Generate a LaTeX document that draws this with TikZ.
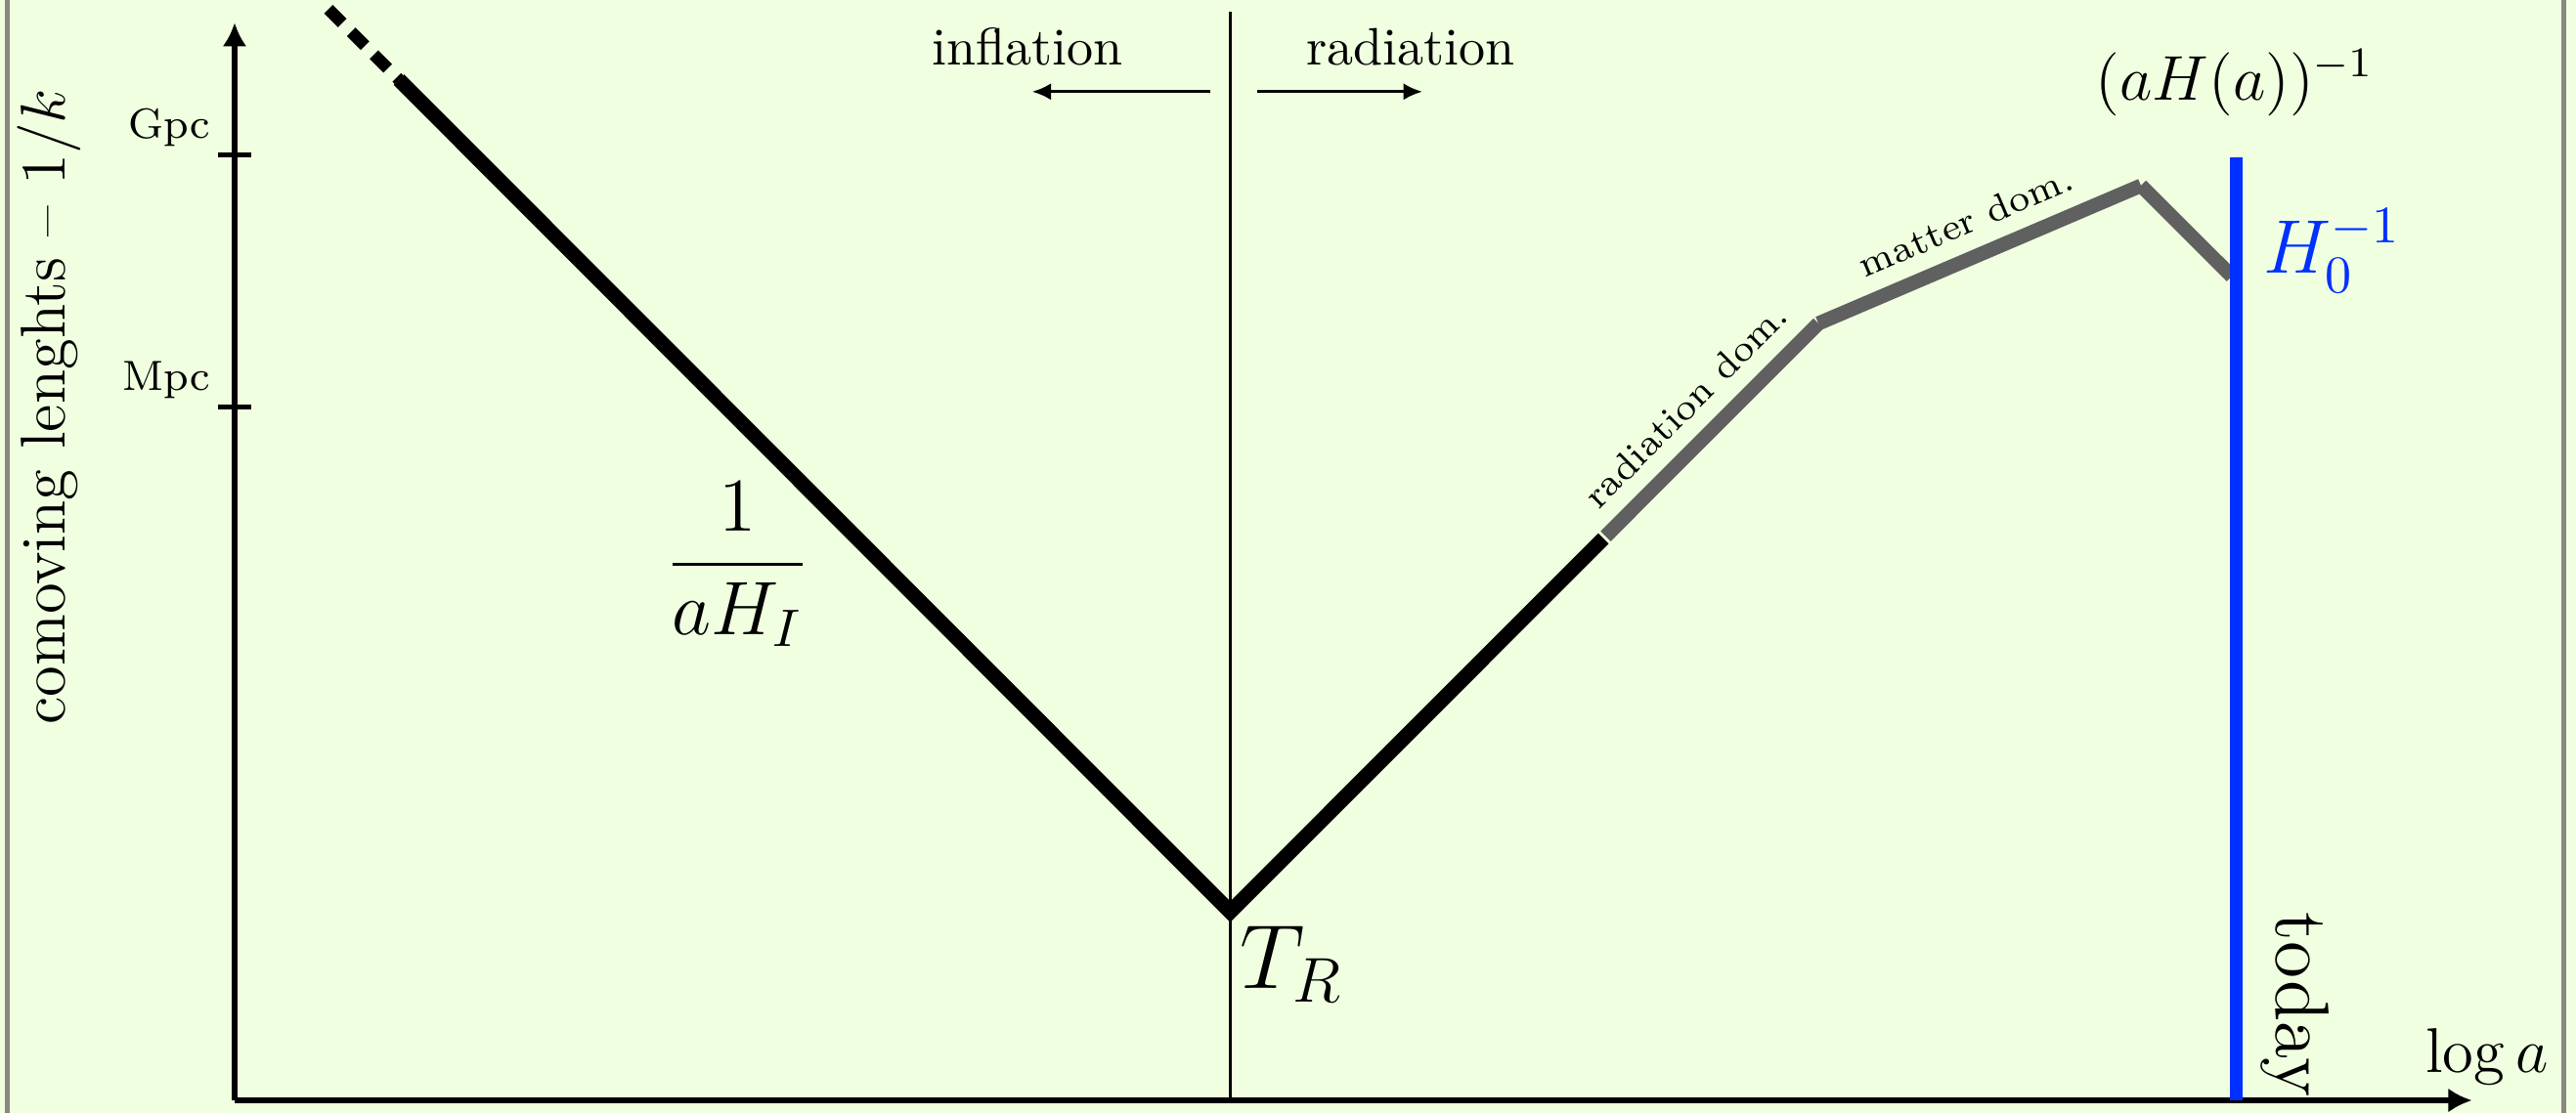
\documentclass[tikz,border=0pt]{standalone}
\usepackage{amsmath}
\usepackage{tikz}
\usepackage{xcolor}
\usetikzlibrary{arrows.meta,calc}
\definecolor{bgcol}{RGB}{240,255,224}
\definecolor{framecol}{RGB}{136,136,128}
\definecolor{latecol}{RGB}{96,96,96}
\definecolor{todaycol}{RGB}{0,48,255}

\begin{document}
\begin{tikzpicture}[auto]
    % Styles for axes and lines
    \tikzstyle{axis} = [line width=1pt,-{Latex[length=4.5pt,width=4.6pt]}]
    \tikzstyle{tick} = [line width=1pt]
    \tikzstyle{hubble} = [line width=2.8pt]
    \tikzstyle{late} = [line width=2.7pt, draw=latecol]
    \tikzstyle{era} = [line width=0.6pt,-{Latex[length=3.6pt,width=3.2pt]}]

  % Background and frame
    \fill[bgcol] (-1.5625,-0.0846) rectangle (15.592,7.3307);
    \useasboundingbox (-1.5625,-0.0846) rectangle (15.592,7.3307);
    \draw[framecol, line width=0.93pt] (-1.514,-0.0846) -- (-1.514,7.3307);
    \draw[framecol, line width=0.93pt] (15.51,-0.0846) -- (15.51,7.3307);

  % Points with explicit coordinates
    \coordinate (O) at (0,0);
    \coordinate (ytop) at (0,7.18);
    \coordinate (xend) at (14.90,0);
    \coordinate (gpc) at (0,6.30);
    \coordinate (mpc) at (0,4.62);
    \coordinate (TRtop) at (6.63,7.25);
    \coordinate (TRbot) at (6.63,0);
    \coordinate (early) at (0.625,7.27);
    \coordinate (Istart) at (1.094,6.80);
    \coordinate (TR) at (6.63,1.256);
    \coordinate (radstart) at (9.115,3.743);
    \coordinate (eq) at (10.547,5.176);
    \coordinate (lambda) at (12.695,6.094);
    \coordinate (now) at (13.30,5.49);
    \coordinate (todaytop) at (13.33,6.28);
    \coordinate (todaybot) at (13.33,0);
    \coordinate (infl-a) at (6.50,6.72);
    \coordinate (infl-b) at (5.31,6.72);
    \coordinate (rad-a) at (6.81,6.72);
    \coordinate (rad-b) at (7.91,6.72);

  % Axes and ticks
    \draw[axis] (O) -- (ytop);
    \draw[axis] (O) -- (xend);
    \draw[tick] ($(gpc)+(-0.11,0)$) node[above left, inner sep=1pt] {\footnotesize Gpc} -- ($(gpc)+(0.11,0)$);
    \draw[tick] ($(mpc)+(-0.11,0)$) node[above left, inner sep=1pt] {\footnotesize Mpc} -- ($(mpc)+(0.11,0)$);

  % Reheating line
    \draw[line width=0.45pt] (TRbot) -- (TRtop);
    \draw[era] (infl-a) -- (infl-b);
    \draw[era] (rad-a) -- (rad-b);

  % Comoving Hubble radius
    \draw[hubble, dash pattern=on 3.7pt off 2.4pt, line width=2.3pt] (early) -- (Istart);
    \draw[hubble] (Istart) -- (TR) -- (radstart);
    \draw[late, shorten <=0.6pt] (radstart) -- (eq) node[midway, sloped, above, inner sep=3pt] {\scriptsize radiation dom.};
    \draw[late] (eq) -- (lambda) node[midway, sloped, above, inner sep=3pt] {\scriptsize matter dom.};
    \draw[late] (lambda) -- (now);
    \draw[todaycol, line width=2.3pt] (todaybot) -- (todaytop);

  % Labels
    \node (ylabel) at (-1.237,4.62) [rotate=90] {\large comoving lenghts -- $1/k$};
    \node (loga) at (15.0,0.29) {\large $\log a$};
    \node (inflation) at (5.28,7.02) {inflation};
    \node (radiation) at (7.83,7.02) {radiation};
    \node (inflabel) at (3.35,3.57) {\Large $\displaystyle\frac{1}{aH_I}$};
    \node (TRlabel) at (7.04,0.905) {\LARGE $T_R$};
    \node (aHlabel) at (13.32,6.78) {\large $(aH(a))^{-1}$};
    \node (H0label) at (13.97,5.66) {\Large \color{todaycol}$H_0^{-1}$};
    \node (todaylabel) at (13.72,0.638) [rotate=-90] {\Large today};

\end{tikzpicture}
\end{document}
